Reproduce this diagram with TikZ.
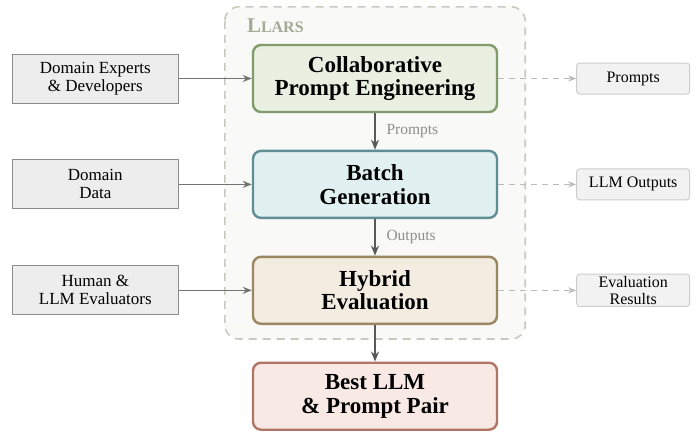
\documentclass[tikz,border=0pt]{standalone}
\usepackage{fontspec}
\setmainfont{Liberation Serif}
\usetikzlibrary{positioning,arrows.meta,backgrounds}
\definecolor{stagegreen}{HTML}{E9EFE1}
\definecolor{stagegreenline}{HTML}{7F9C6A}
\definecolor{stageblue}{HTML}{E1F0F1}
\definecolor{stageblueline}{HTML}{5F8F95}
\definecolor{stagetan}{HTML}{F3ECE0}
\definecolor{stagetanline}{HTML}{9A8762}
\definecolor{stagered}{HTML}{F9E9E5}
\definecolor{stageredline}{HTML}{B07565}
\definecolor{llarsline}{HTML}{C6CBBD}
\definecolor{llarsfill}{HTML}{F9F9F7}
\definecolor{llarstext}{HTML}{A3AA95}
\begin{document}
\begin{tikzpicture}[x=1pt,y=-1pt,
    stage/.style={draw,rounded corners=8pt,line width=2.4pt,minimum width=244pt,
      minimum height=67pt,align=center,inner sep=2pt,
      font=\fontsize{23}{23.5}\selectfont\bfseries},
    inbox/.style={draw=black!45,fill=black!7,line width=1pt,minimum width=166pt,
      minimum height=49pt,align=center,inner sep=2pt,font=\fontsize{17}{18}\selectfont},
    outbox/.style={draw=black!20,fill=black!5,line width=1pt,rounded corners=3pt,
      minimum width=113pt,minimum height=31pt,align=center,inner sep=2pt,
      font=\fontsize{16}{17}\selectfont},
    feed/.style={-{Stealth[length=9pt,width=7pt]},draw=black!55,line width=1.6pt},
    flow/.style={-{Stealth[length=10pt,width=8pt]},draw=black!65,line width=2.4pt},
    side/.style={-{Stealth[length=8pt,width=6pt]},draw=black!27,line width=1.2pt,
      dash pattern=on 6pt off 5pt},
    flowlabel/.style={right=7pt,text=black!45,font=\fontsize{15.5}{17}\selectfont}]
  \useasboundingbox (0,0) rectangle (700,431);
  % the four stages
  \node[stage,fill=stagegreen,draw=stagegreenline] (collab) at (375,78.5)
    {Collaborative\\Prompt Engineering};
  \node[stage,fill=stageblue,draw=stageblueline,below=36.5pt of collab] (batch)
    {Batch\\Generation};
  \node[stage,fill=stagetan,draw=stagetanline,below=36.5pt of batch] (hybrid)
    {Hybrid\\Evaluation};
  \node[stage,fill=stagered,draw=stageredline,below=36.5pt of hybrid] (best)
    {Best LLM\\\& Prompt Pair};
  % dashed frame of the system
  \begin{scope}[on background layer]
    \draw[llarsline,fill=llarsfill,line width=1.6pt,dash pattern=on 8pt off 6pt,rounded corners=14pt]
      ([xshift=-27pt,yshift=37pt]collab.north west) coordinate (frame)
      rectangle ([xshift=27pt,yshift=-14pt]hybrid.south east);
  \end{scope}
  \node[anchor=north west,inner sep=0pt,text=llarstext,font=\bfseries] (llars)
    at ([xshift=22pt,yshift=-12pt]frame) {{\fontsize{21}{21}\selectfont L}{\fontsize{16}{16}\selectfont LARS}};
  % inputs
  \node[inbox,left=73pt of collab] (experts) {Domain Experts\\\& Developers};
  \node[inbox,left=73pt of batch] (data) {Domain\\Data};
  \node[inbox,left=73pt of hybrid] (judges) {Human \&\\LLM Evaluators};
  % outputs
  \node[outbox,right=78pt of collab] (prompts) {Prompts};
  \node[outbox,right=78pt of batch] (outputs) {LLM Outputs};
  \node[outbox,right=78pt of hybrid] (results) {Evaluation\\Results};
  % connectors
  \draw[feed] (experts) -- (collab);
  \draw[feed] (data) -- (batch);
  \draw[feed] (judges) -- (hybrid);
  \draw[flow] (collab) -- node[flowlabel] {Prompts} (batch);
  \draw[flow] (batch) -- node[flowlabel] {Outputs} (hybrid);
  \draw[flow] (hybrid) -- (best);
  \draw[side] (collab) -- (prompts);
  \draw[side] (batch) -- (outputs);
  \draw[side] (hybrid) -- (results);
\end{tikzpicture}
\end{document}
